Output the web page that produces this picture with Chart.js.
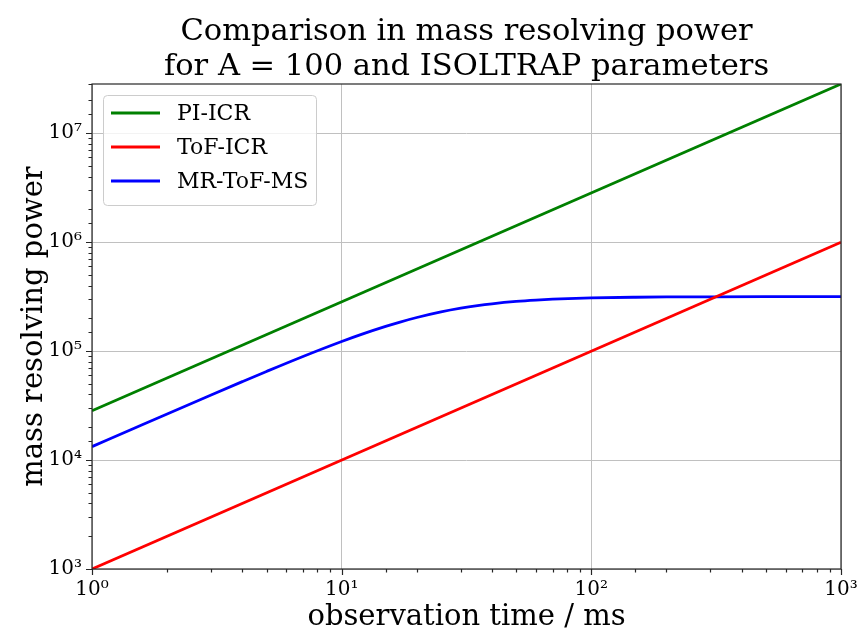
<!DOCTYPE html>
<html>
<head>
<meta charset="utf-8">
<script src="https://cdn.jsdelivr.net/npm/chart.js@4.4.0/dist/chart.umd.min.js"></script>
<style>
    html, body { margin: 0; padding: 0; background: #fff; }
</style>
</head>
<body>
<canvas id="chart" width="858" height="632"></canvas>
<script>
// observation time in ms
const piTimes = [1, 1000];
const piValues = [28300, 28300000];

const tofTimes = [1, 1000];
const tofValues = [1000, 1000000];

const mrTimes = [1, 1.5, 2, 3, 4, 5, 7, 10, 12, 15, 17, 20, 25, 30, 35, 40, 50, 60, 70, 100, 150, 200, 300, 500, 1000];
const mrValues = [13290, 19910, 26510, 39590, 52460, 65080, 89310, 122600, 142500, 168700, 183900, 203500,
    229100, 247800, 261600, 271800, 285600, 294000, 299400, 307700, 312300, 314000, 315200, 315900, 316100];

const seriesLabels = ['PI-ICR', 'ToF-ICR', 'MR-ToF-MS'];
const seriesColors = ['#008000', '#ff0000', '#0000ff'];
const titleLines = ['Comparison in mass resolving power', 'for A = 100 and ISOLTRAP parameters'];

const xMin = 1, xMax = 1000;
const yMin = 1000, yMax = 28300000;

const fontFamily = '"DejaVu Serif", serif';
const sup = ['⁰', '¹', '²', '³', '⁴', '⁵', '⁶', '⁷', '⁸', '⁹'];

function isMajor(v) {
    const e = Math.log10(v);
    return Math.abs(e - Math.round(e)) < 1e-9;
}
function powLabel(v) {
    return isMajor(v) ? '10' + sup[Math.round(Math.log10(v))] : '';
}
function points(xs, ys) {
    return xs.map((x, i) => ({x: x, y: ys[i]}));
}

// title over the axes, tick marks, frame and the legend inside the plot
const decorations = {
    id: 'decorations',
    afterDraw(chart) {
        const {ctx, chartArea: a, scales: {x, y}} = chart;
        ctx.save();

        ctx.fillStyle = '#000';
        ctx.font = '30.5px ' + fontFamily;
        ctx.textAlign = 'center';
        ctx.textBaseline = 'alphabetic';
        const cx = (a.left + a.right) / 2;
        ctx.fillText(titleLines[0], cx, 40);
        ctx.fillText(titleLines[1], cx, 75);
        ctx.textAlign = 'left';

        ctx.strokeStyle = '#262626';
        ctx.lineWidth = 1.2;
        ctx.beginPath();
        x.ticks.forEach(t => {
            const px = Math.round(x.getPixelForValue(t.value)) + 0.5;
            const len = isMajor(t.value) ? 6 : 3.5;
            ctx.moveTo(px, a.bottom); ctx.lineTo(px, a.bottom + len);
        });
        y.ticks.forEach(t => {
            if (t.value > yMax) return;
            const py = Math.round(y.getPixelForValue(t.value)) + 0.5;
            const len = isMajor(t.value) ? 6 : 3.5;
            ctx.moveTo(a.left, py); ctx.lineTo(a.left - len, py);
        });
        ctx.stroke();
        ctx.strokeRect(a.left, a.top, a.right - a.left, a.bottom - a.top);

        // legend
        const lx = 103, ly = 95, lw = 213, lh = 110;
        ctx.fillStyle = 'rgba(255,255,255,0.8)';
        ctx.strokeStyle = '#cccccc';
        ctx.lineWidth = 1;
        ctx.beginPath();
        ctx.roundRect(lx + 0.5, ly + 0.5, lw, lh, 4);
        ctx.fill();
        ctx.stroke();
        ctx.font = '22px ' + fontFamily;
        ctx.textBaseline = 'middle';
        chart.data.datasets.forEach((ds, i) => {
            const rowY = 113 + i * 34;
            ctx.strokeStyle = ds.borderColor;
            ctx.lineWidth = 2.8;
            ctx.beginPath();
            ctx.moveTo(111, rowY); ctx.lineTo(160, rowY);
            ctx.stroke();
            ctx.fillStyle = '#000';
            ctx.fillText(ds.label, 177, rowY + 1);
        });
        ctx.restore();
    }
};

const datasets = [
    points(piTimes, piValues),
    points(tofTimes, tofValues),
    points(mrTimes, mrValues),
].map((d, i) => ({
    label: seriesLabels[i],
    data: d,
    borderColor: seriesColors[i],
    backgroundColor: seriesColors[i],
    borderWidth: 2.8,
    pointRadius: 0,
    showLine: true,
    cubicInterpolationMode: 'monotone',
}));

const gridColor = (c) => isMajor(c.tick.value) ? '#c0c0c0' : 'rgba(0,0,0,0)';

var ctx = document.getElementById('chart').getContext('2d');
var chart = new Chart(ctx, {
    type: 'scatter',
    data: {datasets: datasets},
    options: {
        responsive: false,
        animation: false,
        layout: {padding: {left: 0, right: 0, top: 84, bottom: 0}},
        plugins: {
            legend: {display: false},
            tooltip: {enabled: false},
            title: {display: false},
        },
        scales: {
            x: {
                type: 'logarithmic',
                min: xMin,
                max: xMax,
                grid: {color: gridColor, drawTicks: false, lineWidth: 1},
                border: {display: false},
                ticks: {
                    callback: powLabel,
                    autoSkip: false,
                    maxRotation: 0,
                    padding: 9,
                    color: '#000',
                    font: {family: fontFamily, size: 20},
                },
                title: {
                    display: true,
                    text: 'observation time / ms',
                    color: '#000',
                    font: {family: fontFamily, size: 29, lineHeight: 1.0},
                    padding: {top: 0, bottom: 0},
                },
                afterFit(scale) {
                    scale.height = 63;
                    scale.paddingLeft = 0;
                    scale.paddingRight = 17;
                },
            },
            y: {
                type: 'logarithmic',
                min: yMin,
                max: yMax,
                grid: {color: gridColor, drawTicks: false, lineWidth: 1},
                border: {display: false},
                ticks: {
                    callback: powLabel,
                    autoSkip: false,
                    padding: 10,
                    color: '#000',
                    font: {family: fontFamily, size: 20},
                },
                title: {
                    display: true,
                    text: 'mass resolving power',
                    color: '#000',
                    font: {family: fontFamily, size: 29, lineHeight: 1.0},
                    padding: {top: 20, bottom: 0},
                },
                afterFit(scale) {
                    scale.width = 92;
                    scale.paddingTop = 0;
                    scale.paddingBottom = 0;
                },
            },
        },
    },
    plugins: [decorations],
});
</script>
</body>
</html>
